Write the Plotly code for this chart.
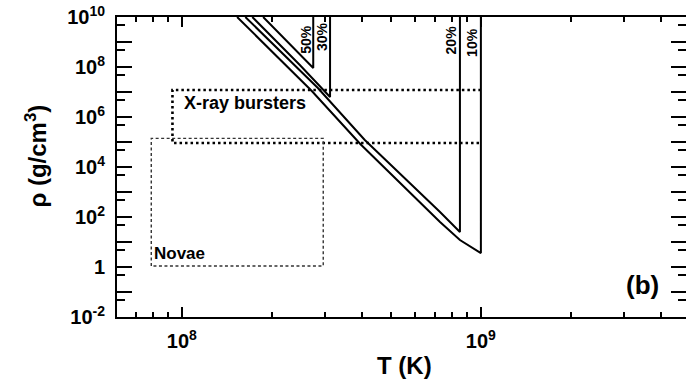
import numpy as np
import plotly.graph_objects as go

# ---------------- data ----------------
T_50 = [1.87e8, 2.75e8, 2.75e8]
rho_50 = [1e10, 9.1e7, 1e10]

T_30 = [1.72e8, 2.48e8, 3.13e8, 3.13e8]
rho_30 = [1e10, 1.2e8, 6.3e6, 1e10]

T_20 = [1.63e8, 2.85e8, 4.09e8, 5.93e8, 7.3e8, 8.51e8, 8.51e8]
rho_20 = [1e10, 1.45e7, 1.2e5, 1.74e3, 158, 25, 1e10]

T_10 = [1.53e8, 2.05e8, 2.72e8, 3.95e8, 5.93e8, 7.3e8, 8.51e8, 1.0e9, 1.0e9]
rho_10 = [1e10, 3.0e8, 1.1e7, 8.3e4, 760, 63, 12, 3.6, 1e10]

curve_labels = ["50%", "30%", "20%", "10%"]

xrb_T = [9.3e7, 1.0e9]
xrb_rho = [9.1e4, 1.2e7]
novae_T = [7.9e7, 2.97e8]
novae_rho = [1.1, 1.4e5]

x_major = [1e8, 1e9]
x_major_text = ["10<sup>8</sup>", "10<sup>9</sup>"]
x_minor = [m * 10.0 ** e for e in (7, 8, 9) for m in range(2, 10)]

y_major = [10.0 ** e for e in range(-2, 11)]
y_major_text = [("1" if e == 0 else "10<sup>%d</sup>" % e) if e % 2 == 0 else "" for e in range(-2, 11)]
y_minor = [5 * 10.0 ** e for e in range(-3, 10)]

# ---------------- figure ----------------
FONT = "Liberation Sans, Arial, Helvetica, sans-serif"
fig = go.Figure()

line_style = dict(color="black", width=2)
for T, rho in [(T_50, rho_50), (T_30, rho_30), (T_20, rho_20), (T_10, rho_10)]:
    fig.add_trace(go.Scatter(x=T, y=rho, mode="lines", line=line_style,
                             showlegend=False, hoverinfo="skip"))

# X-ray bursters box (heavy dotted)
fig.add_trace(go.Scatter(
    x=[xrb_T[1], xrb_T[0], xrb_T[0], xrb_T[1]],
    y=[xrb_rho[1], xrb_rho[1], xrb_rho[0], xrb_rho[0]],
    mode="lines", line=dict(color="black", width=2.6, dash="2.5px,3px"),
    showlegend=False, hoverinfo="skip"))
# Novae box (light dashed)
fig.add_trace(go.Scatter(
    x=[novae_T[0], novae_T[0], novae_T[1], novae_T[1], novae_T[0]],
    y=[novae_rho[0], novae_rho[1], novae_rho[1], novae_rho[0], novae_rho[0]],
    mode="lines", line=dict(color="#333333", width=1.4, dash="3px,2.5px"),
    showlegend=False, hoverinfo="skip"))

# invisible trace for right-side ticks axis
fig.add_trace(go.Scatter(x=[1e8], y=[1], yaxis="y2", mode="markers",
                         marker=dict(opacity=0), showlegend=False, hoverinfo="skip"))

xr = [7.783, 9.686]
yr = [-2, 10]

fig.update_layout(
    width=686, height=380,
    margin=dict(l=117, r=0, t=17, b=63),
    plot_bgcolor="white", paper_bgcolor="white",
    font=dict(family=FONT, color="black"),
    xaxis=dict(type="log", range=xr, showgrid=False, zeroline=False,
               showline=True, linecolor="black", linewidth=2, mirror="ticks",
               ticks="inside", ticklen=10, tickwidth=1.5, tickcolor="black",
               tickmode="array", tickvals=x_major, ticktext=x_major_text,
               tickfont=dict(size=20, family=FONT, weight="bold"),
               ticklabelstandoff=5,
               minor=dict(ticks="inside", ticklen=5, tickwidth=1.5, tickcolor="black",
                          tickmode="array", tickvals=x_minor, showgrid=False)),
    yaxis=dict(type="log", range=yr, showgrid=False, zeroline=False,
               showline=True, linecolor="black", linewidth=2, mirror=False,
               ticks="inside", ticklen=15, tickwidth=1.5, tickcolor="black",
               tickmode="array", tickvals=y_major, ticktext=y_major_text,
               tickfont=dict(size=20, family=FONT, weight="bold"),
               ticklabelstandoff=6,
               minor=dict(ticks="inside", ticklen=8, tickwidth=1.5, tickcolor="black",
                          tickmode="array", tickvals=y_minor, showgrid=False)),
    yaxis2=dict(type="log", range=yr, overlaying="y", side="right", showgrid=False,
                zeroline=False, showline=False, showticklabels=False,
                ticks="inside", ticklen=15, tickwidth=1.5, tickcolor="black",
                tickmode="array", tickvals=y_major,
                minor=dict(ticks="inside", ticklen=8, tickwidth=1.5, tickcolor="black",
                           tickmode="array", tickvals=y_minor, showgrid=False)),
)

ann = []
# percentage labels, rotated, just left of each vertical line
for lab, T, rho_y, dx in [("50%", T_50[-1], 10 ** 9.1, -8), ("30%", T_30[-1], 10 ** 9.2, -8),
                          ("20%", T_20[-1], 10 ** 9.1, -9), ("10%", T_10[-1], 10 ** 9.0, -9)]:
    ann.append(dict(x=np.log10(T), y=np.log10(rho_y), xref="x", yref="y", text=lab,
                    showarrow=False, textangle=-90, xshift=dx,
                    xanchor="center", yanchor="middle",
                    font=dict(size=14, family=FONT, weight="bold")))
ann.append(dict(x=np.log10(xrb_T[0]), y=np.log10(xrb_rho[1]), xref="x", yref="y",
                text="X-ray bursters", showarrow=False, xanchor="left", yanchor="top",
                xshift=10, yshift=-1, font=dict(size=18, family=FONT, weight="bold")))
ann.append(dict(x=np.log10(novae_T[0]), y=np.log10(novae_rho[0]), xref="x", yref="y",
                text="Novae", showarrow=False, xanchor="left", yanchor="bottom",
                xshift=1, yshift=1, font=dict(size=17, family=FONT, weight="bold")))
ann.append(dict(x=0.924, y=0.107, xref="paper", yref="paper", text="(b)",
                xanchor="center", yanchor="middle",
                showarrow=False, font=dict(size=26, family=FONT, weight="bold")))
ann.append(dict(x=-0.144, y=0.535, xref="paper", yref="paper", text="ρ (g/cm<sup>3</sup>)",
                xanchor="center", yanchor="middle",
                showarrow=False, textangle=-90, font=dict(size=24, family=FONT, weight="bold")))
ann.append(dict(x=0.506, y=-0.163, xref="paper", yref="paper", text="T (K)",
                xanchor="center", yanchor="middle",
                showarrow=False, font=dict(size=24, family=FONT, weight="bold")))
fig.update_layout(annotations=ann)

fig.write_html("out.html")
